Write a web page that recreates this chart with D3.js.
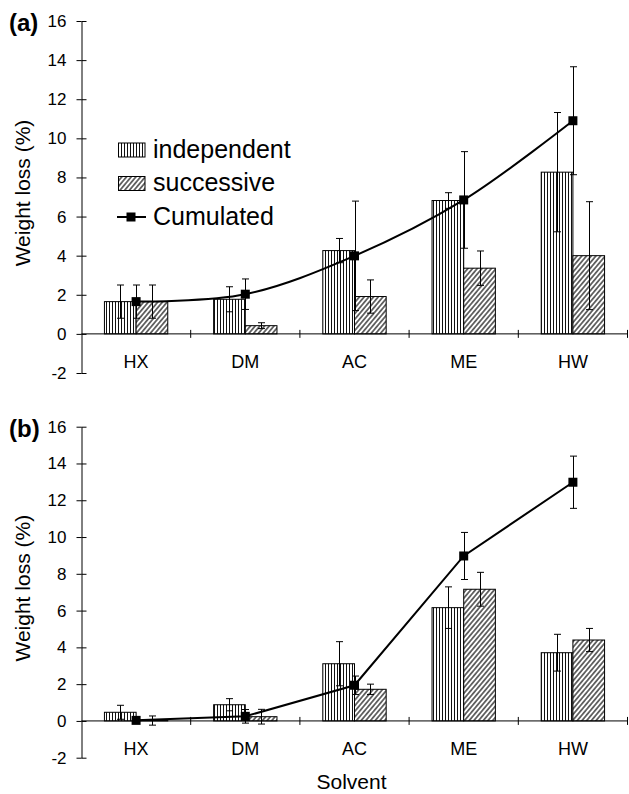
<!DOCTYPE html>
<html>
<head>
<meta charset="utf-8">
<script src="https://cdn.jsdelivr.net/npm/d3@7"></script>
<style>
  html, body { margin: 0; padding: 0; background: #fff; }
  svg { display: block; font-family: "Liberation Sans", Arial, sans-serif; }
</style>
</head>
<body>
<svg id="chart" width="629" height="794"></svg>
<script>
// ---- data ----
const categories = ["HX", "DM", "AC", "ME", "HW"];
const yTicks = [-2, 0, 2, 4, 6, 8, 10, 12, 14, 16];
const seriesNames = ["independent", "successive", "Cumulated"];

const aIndependent    = [1.65, 1.77, 4.26, 6.82, 8.27];
const aIndependentErr = [0.85, 0.64, 0.62, 0.40, 3.05];
const aSuccessive     = [1.65, 0.42, 1.91, 3.36, 4.00];
const aSuccessiveErr  = [0.85, 0.15, 0.85, 0.88, 2.76];
const aCumulated      = [1.65, 2.03, 3.99, 6.85, 10.90];
const aCumulatedErr   = [0.85, 0.78, 2.80, 2.47, 2.76];

const bIndependent    = [0.47, 0.88, 3.11, 6.16, 3.71];
const bIndependentErr = [0.38, 0.33, 1.20, 1.13, 1.00];
const bSuccessive     = [0.02, 0.23, 1.72, 7.16, 4.40];
const bSuccessiveErr  = [0.25, 0.40, 0.28, 0.92, 0.63];
const bCumulated      = [0.03, 0.25, 1.94, 8.97, 12.98];
const bCumulatedErr   = [0.10, 0.37, 0.50, 1.28, 1.42];

// ---- setup ----
const svg = d3.select("#chart");
const FONT = "'Liberation Sans', Arial, sans-serif";

const defs = svg.append("defs");
const pv = defs.append("pattern").attr("id", "pVert")
  .attr("patternUnits", "userSpaceOnUse").attr("width", 3).attr("height", 10);
pv.append("rect").attr("width", 3).attr("height", 10).attr("fill", "#fff");
pv.append("line").attr("x1", 1.5).attr("x2", 1.5).attr("y1", 0).attr("y2", 10)
  .attr("stroke", "#111").attr("stroke-width", 1);

const pd = defs.append("pattern").attr("id", "pDiag")
  .attr("patternUnits", "userSpaceOnUse").attr("width", 3.6).attr("height", 10)
  .attr("patternTransform", "rotate(40)");
pd.append("rect").attr("width", 3.6).attr("height", 10).attr("fill", "#fff");
pd.append("line").attr("x1", 1.8).attr("x2", 1.8).attr("y1", 0).attr("y2", 10)
  .attr("stroke", "#111").attr("stroke-width", 1.2);

const x = d3.scaleBand().domain(categories).range([81.5, 627.5]).padding(0);
const bw = x.bandwidth();
const barW = bw * 0.29;
const xSub = d3.scaleBand().domain(["ind", "succ"])
  .range([bw / 2 - barW, bw / 2 + barW]).padding(0);

function panel(opts) {
  const y = d3.scaleLinear().domain([-2, 16]).range([opts.yBottom, opts.yTop]);
  const g = svg.append("g");

  // bars
  const bars = [
    { key: "ind", vals: opts.ind, errs: opts.indErr, fill: "url(#pVert)" },
    { key: "succ", vals: opts.succ, errs: opts.succErr, fill: "url(#pDiag)" }
  ];
  bars.forEach(s => {
    g.selectAll(null).data(categories).enter().append("rect")
      .attr("x", (c) => x(c) + xSub(s.key))
      .attr("width", xSub.bandwidth())
      .attr("y", (c, i) => Math.min(y(s.vals[i]), y(0)))
      .attr("height", (c, i) => Math.abs(y(0) - y(s.vals[i])))
      .attr("fill", s.fill)
      .attr("stroke", "#000").attr("stroke-width", 1);
  });

  // axes
  const yAxis = d3.axisLeft(y).tickValues(yTicks).tickSizeInner(5).tickSizeOuter(0).tickPadding(10)
    .tickFormat(d => String(d));
  const ya = g.append("g").attr("transform", "translate(81.5,0)").call(yAxis);
  ya.selectAll("text").attr("font-size", 17).attr("font-family", FONT).attr("fill", "#000");
  ya.selectAll(".tick line").attr("x2", -5).clone().attr("x2", 5);
  ya.select(".domain").attr("stroke", "#000");

  // x axis line at 0
  const y0 = y(0);
  g.append("line").attr("x1", 81.5).attr("x2", 627.5).attr("y1", y0).attr("y2", y0)
    .attr("stroke", "#000").attr("stroke-width", 1);
  const bounds = categories.map(c => x(c)).concat([x.range()[1]]).slice(1);
  g.selectAll(null).data(bounds).enter().append("line")
    .attr("x1", d => d).attr("x2", d => d).attr("y1", y0 - 4).attr("y2", y0 + 4)
    .attr("stroke", "#000").attr("stroke-width", 1);
  const xa = d3.axisBottom(x).tickSize(0).tickPadding(0);
  const xg = g.append("g").attr("transform", `translate(0,${y0})`).call(xa);
  xg.select(".domain").remove();
  xg.selectAll("text").attr("font-size", 18).attr("font-family", FONT).attr("fill", "#000")
    .attr("dy", null).attr("y", 34);

  // error bars
  function errBars(cx, vals, errs) {
    const eg = g.append("g").attr("stroke", "#000").attr("stroke-width", 1);
    categories.forEach((c, i) => {
      const xx = Math.round(cx(c)) + 0.5;
      const top = y(vals[i] + errs[i]), bot = y(vals[i] - errs[i]);
      eg.append("line").attr("x1", xx).attr("x2", xx).attr("y1", top).attr("y2", bot);
      eg.append("line").attr("x1", xx - 3.5).attr("x2", xx + 3.5).attr("y1", top).attr("y2", top);
      eg.append("line").attr("x1", xx - 3.5).attr("x2", xx + 3.5).attr("y1", bot).attr("y2", bot);
    });
  }
  errBars(c => x(c) + xSub("ind") + xSub.bandwidth() / 2, opts.ind, opts.indErr);
  errBars(c => x(c) + xSub("succ") + xSub.bandwidth() / 2, opts.succ, opts.succErr);
  errBars(c => x(c) + bw / 2, opts.cum, opts.cumErr);

  // cumulated line
  const line = d3.line()
    .x((d, i) => x(categories[i]) + bw / 2)
    .y(d => y(d))
    .curve(opts.curve);
  g.append("path").datum(opts.cum).attr("d", line)
    .attr("fill", "none").attr("stroke", "#000").attr("stroke-width", 2);
  g.selectAll(null).data(opts.cum).enter().append("rect")
    .attr("x", (d, i) => x(categories[i]) + bw / 2 - 4.5)
    .attr("y", d => y(d) - 4.5)
    .attr("width", 9).attr("height", 9).attr("fill", "#000");

  // y label
  g.append("text")
    .attr("transform", `translate(30,${(opts.yTop + opts.yBottom) / 2 - 4}) rotate(-90)`)
    .attr("text-anchor", "middle").attr("font-size", 21).attr("font-family", FONT)
    .text("Weight loss (%)");

  // panel label
  g.append("text").attr("x", 9).attr("y", opts.labelY)
    .attr("font-size", 24).attr("font-weight", "bold").attr("font-family", FONT)
    .text(opts.label);
  return y;
}

panel({
  yTop: 21, yBottom: 373, label: "(a)", labelY: 31,
  ind: aIndependent, indErr: aIndependentErr,
  succ: aSuccessive, succErr: aSuccessiveErr,
  cum: aCumulated, cumErr: aCumulatedErr,
  curve: d3.curveCatmullRom.alpha(0.5)
});
panel({
  yTop: 426.7, yBottom: 757.7, label: "(b)", labelY: 437,
  ind: bIndependent, indErr: bIndependentErr,
  succ: bSuccessive, succErr: bSuccessiveErr,
  cum: bCumulated, cumErr: bCumulatedErr,
  curve: d3.curveLinear
});

// legend (panel a)
const lg = svg.append("g");
const legendRows = [
  { name: seriesNames[0], type: "bar", fill: "url(#pVert)", y: 150 },
  { name: seriesNames[1], type: "bar", fill: "url(#pDiag)", y: 183.5 },
  { name: seriesNames[2], type: "line", y: 217 }
];
legendRows.forEach(r => {
  if (r.type === "bar") {
    lg.append("rect").attr("x", 118.5).attr("y", r.y - 7).attr("width", 26.5).attr("height", 14)
      .attr("fill", r.fill).attr("stroke", "#000").attr("stroke-width", 1);
  } else {
    lg.append("line").attr("x1", 117).attr("x2", 146).attr("y1", r.y).attr("y2", r.y)
      .attr("stroke", "#000").attr("stroke-width", 2);
    lg.append("rect").attr("x", 131 - 4.5).attr("y", r.y - 4.5).attr("width", 9).attr("height", 9)
      .attr("fill", "#000");
  }
  lg.append("text").attr("x", 153).attr("y", r.y + 7.5)
    .attr("font-size", 25).attr("font-family", FONT).text(r.name);
});

// x title
svg.append("text").attr("x", 351.5).attr("y", 789)
  .attr("text-anchor", "middle").attr("font-size", 21).attr("font-family", FONT)
  .text("Solvent");
</script>
</body>
</html>
